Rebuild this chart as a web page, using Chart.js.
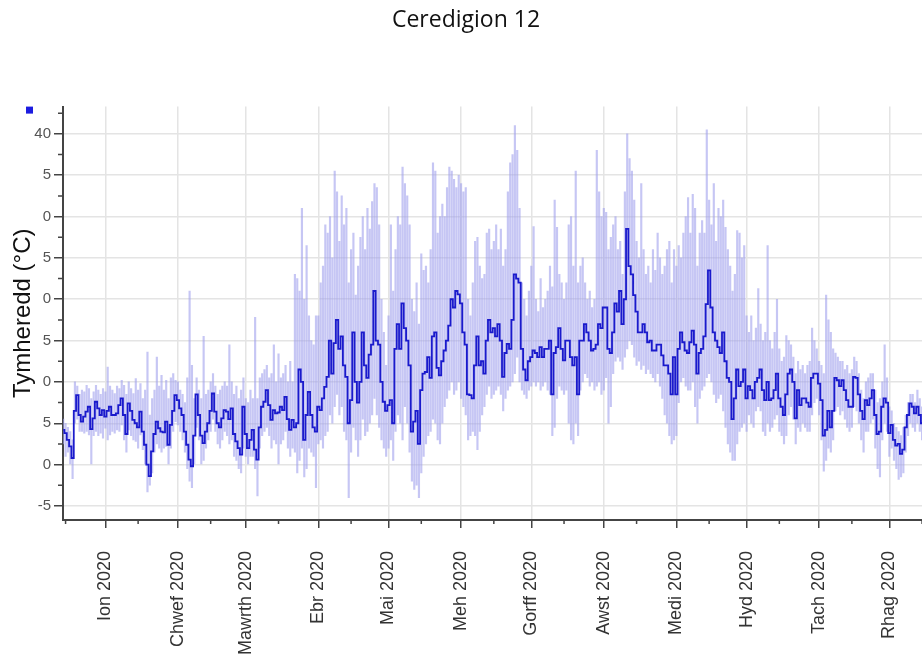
<!DOCTYPE html>
<html>
<head>
<meta charset="utf-8">
<script src="https://cdn.jsdelivr.net/npm/chart.js@4.4.1/dist/chart.umd.min.js"></script>
<style>
  html, body { margin: 0; padding: 0; background: #fff; overflow: hidden; }
</style>
</head>
<body>
<canvas id="tempChart" width="934" height="662"></canvas>
<script>
// day numbers count from 1 Jan 2020, the first reading is 14 Dec 2019
const firstDay = -18;

// daily mean (dark line)
const meanTemp = [
  4.2, 3.8, 3.0, 2.2, 0.8, 6.5, 8.4, 6.0, 5.2, 5.8,
  6.4, 7.0, 4.3, 5.6, 7.6, 6.8, 6.0, 6.6, 5.8, 6.5,
  7.0, 6.0, 6.0, 6.2, 7.2, 8.0, 6.0, 3.7, 7.4, 6.5,
  5.4, 5.0, 4.5, 6.4, 4.0, 2.4, 0.0, -1.4, 1.6, 3.7,
  5.2, 4.4, 4.0, 3.9, 5.2, 2.4, 4.8, 6.5, 8.4, 7.8,
  6.8, 6.0, 4.0, 2.4, 0.6, -0.2, 3.5, 8.5, 6.0, 3.5,
  2.6, 4.0, 5.0, 6.5, 8.6, 6.4, 5.0, 4.5, 5.6, 6.6,
  6.4, 5.5, 6.8, 3.7, 2.8, 2.0, 1.2, 7.0, 3.7, 2.0,
  3.0, 4.2, 1.8, 0.6, 4.5, 7.0, 7.6, 9.0, 7.2, 5.4,
  6.6, 6.2, 6.3, 7.0, 6.6, 8.2, 5.5, 4.2, 5.4, 4.5,
  5.0, 11.5, 10.0, 3.0, 6.0, 8.8, 6.0, 4.5, 4.0, 7.0,
  6.6, 8.0, 9.4, 10.6, 15.0, 11.0, 14.7, 17.5, 14.0, 15.5,
  12.0, 10.6, 5.0, 7.8, 16.0, 10.0, 7.5, 10.0, 16.0, 12.0,
  10.5, 13.3, 14.5, 21.0, 15.0, 14.5, 10.0, 7.6, 6.5, 7.2,
  7.8, 5.0, 14.0, 17.0, 14.0, 19.5, 16.5, 15.0, 12.0, 4.0,
  5.2, 6.5, 2.5, 9.0, 11.0, 11.2, 13.0, 10.5, 15.5, 16.0,
  11.7, 10.8, 12.5, 13.8, 15.0, 16.8, 20.0, 19.0, 21.0, 20.6,
  19.5, 16.0, 14.5, 8.5, 8.4, 8.0, 12.0, 15.5, 12.0, 12.5,
  11.0, 15.0, 17.5, 16.0, 16.5, 15.5, 17.0, 15.0, 10.6, 13.5,
  14.6, 14.0, 17.5, 23.0, 22.5, 22.0, 14.0, 11.5, 10.2, 12.5,
  13.0, 13.8, 13.5, 13.0, 14.2, 13.0, 14.0, 14.0, 15.0, 8.5,
  13.5, 14.2, 16.5, 14.0, 12.6, 15.0, 15.0, 13.0, 12.0, 13.0,
  8.5, 15.0, 15.0, 17.0, 16.0, 15.0, 13.8, 14.0, 14.5, 17.0,
  16.5, 19.0, 19.0, 14.0, 13.5, 16.0, 19.5, 18.5, 21.0, 17.0,
  20.0, 28.5, 24.0, 23.0, 20.5, 18.5, 16.0, 16.0, 17.0, 16.0,
  14.8, 15.0, 13.8, 13.8, 14.5, 14.5, 13.2, 12.0, 12.0, 11.0,
  8.5, 13.0, 8.5, 14.0, 16.0, 14.8, 13.8, 13.5, 14.8, 16.2,
  14.5, 11.0, 13.5, 14.0, 15.5, 19.4, 23.5, 19.0, 16.0, 15.0,
  14.2, 13.5, 16.0, 12.5, 10.5, 10.0, 5.5, 8.0, 11.5, 9.5,
  10.0, 11.5, 8.0, 9.5, 9.0, 8.0, 10.0, 10.5, 11.5, 9.0,
  7.8, 10.0, 7.8, 8.0, 9.0, 11.0, 8.0, 7.0, 6.0, 8.5,
  11.0, 11.5, 10.0, 5.6, 9.0, 7.2, 8.0, 8.0, 7.5, 7.0,
  10.5, 11.0, 11.0, 9.8, 7.8, 3.5, 4.2, 6.5, 4.5, 6.5,
  10.5, 10.2, 9.5, 10.2, 9.0, 7.8, 7.0, 7.0, 10.6, 10.5,
  8.5, 6.5, 5.5, 7.8, 7.2, 8.0, 9.0, 6.0, 3.7, 4.0,
  7.0, 8.0, 7.5, 3.8, 4.8, 3.0, 2.3, 2.5, 1.3, 1.8,
  4.5, 6.0, 7.4, 7.0, 6.2, 7.0, 6.0, 5.0, 5.5
];

// daily highest reading (top of the light bars)
const maxTemp = [
  5.5, 5.0, 4.5, 4.0, 3.0, 10.0, 9.5, 8.5, 9.0, 8.8,
  9.6, 9.2, 8.0, 8.8, 9.6, 9.0, 8.5, 9.2, 8.8, 11.8,
  9.5, 9.0, 8.6, 9.5, 9.2, 10.2, 9.6, 8.5, 10.0, 9.2,
  8.6, 10.4, 9.0, 9.8, 8.0, 9.0, 13.6, 6.0, 8.0, 9.0,
  13.0, 9.5, 10.8, 9.0, 10.2, 8.0, 10.5, 11.0, 10.2, 10.0,
  9.0, 8.5, 7.5, 10.5, 21.0, 12.0, 8.0, 10.5, 9.0, 8.0,
  15.5, 8.5, 9.0, 10.0, 11.0, 9.5, 8.5, 9.0, 9.5, 10.0,
  9.5, 14.5, 10.0, 8.5, 9.5, 8.0, 9.0, 10.5, 8.0, 7.5,
  9.0, 8.0, 17.8, 8.0, 10.5, 11.0, 11.5, 12.0, 10.5, 11.0,
  14.5, 10.0, 13.4, 10.5, 11.0, 12.0, 10.0, 12.5, 10.0, 23.0,
  22.5, 21.0, 31.0, 20.0, 26.5, 18.0, 15.0, 14.5, 18.0, 18.0,
  22.0, 24.0, 29.0, 28.0, 30.0, 25.0, 35.5, 33.0, 27.0, 32.5,
  29.0, 31.0, 22.0, 26.0, 28.0, 20.5, 24.0, 27.5, 30.0, 26.0,
  31.0, 28.5, 31.8, 34.0, 33.5, 29.0, 20.0, 16.0, 12.0, 18.0,
  29.0, 21.0, 26.0, 30.0, 29.0, 36.0, 34.0, 32.5, 29.0, 20.0,
  18.5, 22.0, 17.0, 25.5, 23.5, 24.0, 22.0, 26.0, 36.5, 35.5,
  28.0, 30.0, 31.5, 30.0, 33.5, 36.0, 35.5, 34.5, 33.5, 35.0,
  34.0, 33.0, 33.5, 20.0, 18.0, 22.0, 27.0, 27.5, 24.0, 22.5,
  23.0, 28.0, 28.5, 26.0, 27.0, 29.0, 26.0, 28.5, 24.0, 26.0,
  33.0, 36.5, 37.5, 41.0, 38.0, 31.0, 22.0, 20.0, 18.0, 21.0,
  24.0, 28.8, 20.0, 18.5, 22.5, 19.0, 20.0, 21.0, 24.0, 21.5,
  32.0, 28.7, 23.0, 22.0, 20.0, 22.0, 29.0, 30.0, 24.0, 35.5,
  22.0, 24.0, 25.0, 22.0, 20.0, 21.0, 19.0, 20.0, 38.0, 33.0,
  30.0, 31.0, 30.5, 26.0, 27.5, 29.0, 30.0, 26.0, 27.0, 23.0,
  33.0, 40.0, 37.0, 35.5, 32.0, 27.0, 25.0, 34.0, 26.0, 23.0,
  24.0, 22.0, 26.0, 23.5, 28.0, 25.0, 23.0, 24.0, 26.0, 27.0,
  22.0, 26.0, 24.0, 26.5, 25.0, 28.0, 30.0, 32.3, 28.0, 32.7,
  31.0, 24.0, 28.0, 29.5, 28.0, 40.5, 32.0, 29.0, 34.0, 27.0,
  31.0, 30.0, 32.0, 28.7, 26.0, 24.0, 21.0, 23.0, 28.3, 28.0,
  25.0, 26.5, 18.0, 16.0, 18.0, 15.0, 16.5, 21.3, 17.0, 15.0,
  16.0, 26.5, 15.0, 14.0, 16.0, 20.0, 14.0, 12.5, 13.0, 15.6,
  15.0, 14.5, 13.0, 11.0, 12.5, 11.5, 12.0, 11.0, 12.0, 12.5,
  16.5, 15.0, 14.0, 12.5, 12.0, 11.0, 20.5, 17.5, 16.0, 14.0,
  13.5, 13.0, 12.5, 12.5, 11.5, 12.0, 11.0, 11.5, 13.0, 12.5,
  11.0, 9.0, 8.0, 10.0, 10.5, 11.0, 11.0, 9.0, 7.5, 8.0,
  10.0, 14.5, 10.5, 7.0, 6.5, 5.0, 4.5, 4.0, 3.5, 4.5,
  6.0, 7.5, 8.5, 8.5, 7.5, 9.0, 8.0, 7.0, 7.0
];

// daily lowest reading (bottom of the light bars)
const minTemp = [
  2.5, 1.0, 1.5, 0.0, -1.7, 5.0, 5.5, 4.0, 4.0, 3.8,
  4.0, 3.6, 0.0, 3.5, 4.0, 3.5, 3.8, 3.2, 4.4, 3.0,
  3.6, 4.0, 3.8, 4.2, 4.0, 4.8, 3.0, 1.5, 4.2, 3.5,
  3.0, 2.8, 2.0, 3.6, 1.8, 0.0, -3.3, -2.5, -1.0, 1.5,
  2.5, 2.0, 1.5, 2.0, 2.2, 0.0, 2.0, 4.0, 5.2, 4.8,
  4.0, 3.0, 1.5, -0.5, -2.0, -2.8, 0.0, 4.5, 3.0, 0.0,
  0.5, 2.0, 3.0, 4.0, 5.5, 4.0, 2.5, 2.0, 3.0, 4.0,
  3.5, 2.5, 3.0, 1.0, 0.5, -0.5, -1.0, 2.0, 1.0, 0.0,
  1.0, 1.0, -0.5, -3.8, 2.0, 3.5, 4.0, 4.5, 3.5, 2.0,
  3.0, 2.5, 0.0, 2.5, 3.0, 4.0, 2.0, 1.0, 2.0, 1.5,
  -1.0, 0.5, 2.0, -1.5, -0.5, 2.0, 1.5, 1.0, -2.8, 2.5,
  3.0, 2.0, 3.5, 4.0, 6.0, 5.0, 7.0, 8.5, 6.0, 7.0,
  4.0, 3.0, -4.0, 1.5, 4.5, 3.0, 1.0, 3.0, 5.5, 3.5,
  4.0, 5.0, 6.0, 8.0, 6.0, 4.5, 3.0, 2.0, 1.0, 2.0,
  3.0, 0.5, 4.0, 6.0, 5.0, 3.0, 7.0, 5.0, 1.5, -2.0,
  -3.0, -2.5, -4.0, -1.0, 1.0, 2.5, 3.5, 4.0, 5.5, 5.0,
  3.0, 2.5, 5.0, 7.0, 8.0, 9.0, 10.0, 8.5, 9.0, 10.0,
  8.0, 7.0, 6.0, 3.0, 3.5, 4.0, 3.5, 1.8, 4.0, 6.0,
  7.0, 8.5, 9.5, 8.0, 8.5, 9.0, 9.5, 8.5, 6.5, 8.0,
  9.0, 9.5, 10.0, 11.0, 13.0, 10.0, 9.0, 8.5, 8.0, 9.0,
  9.5, 10.0, 9.5, 10.0, 9.0, 9.5, 10.0, 9.0, 8.5, 3.5,
  4.5, 8.0, 9.5, 9.0, 8.5, 9.0, 5.0, 3.0, 2.5, 5.0,
  3.5, 9.0, 10.0, 11.0, 10.5, 9.5, 10.0, 9.0, 9.5, 10.0,
  8.5, 9.0, 10.5, 5.0, 7.0, 11.0, 12.5, 13.0, 12.5, 11.5,
  13.0, 14.0, 15.0, 14.5, 13.0, 12.0, 12.5, 11.5, 12.0, 11.0,
  11.5, 11.0, 10.5, 10.0, 11.0, 9.5, 8.0, 6.0, 5.0, 3.5,
  2.5, 3.0, 3.5, 7.5, 10.0, 10.5, 9.5, 9.0, 9.0, 10.0,
  7.0, 5.0, 8.0, 9.0, 9.5, 10.5, 11.0, 10.0, 8.5, 7.5,
  8.0, 8.5, 6.5, 4.5, 2.5, 1.5, 0.5, 0.5, 2.5, 4.0,
  4.5, 5.0, 4.0, 6.0, 5.0, 4.5, 6.5, 7.0, 6.5, 4.0,
  3.5, 5.0, 4.0, 4.5, 5.5, 6.0, 4.0, 3.5, 2.5, 3.5,
  6.0, 7.0, 5.5, 2.5, 4.5, 4.0, 5.0, 4.5, 4.0, 4.0,
  6.0, 7.5, 8.0, 6.0, 3.0, -0.8, 0.5, 2.0, 1.5, 3.0,
  6.5, 7.0, 6.0, 6.5, 5.5, 4.5, 4.0, 4.5, 7.0, 6.5,
  5.0, 3.0, 1.5, 4.0, 4.0, 5.0, 5.5, 2.0, -0.5, -1.5,
  3.0, 5.0, 4.0, 1.0, 2.0, 0.5, -0.5, -1.8, -1.5, -1.0,
  1.5, 3.5, 5.0, 4.5, 4.0, 5.0, 4.0, 3.0, 3.5
];

const monthTicks = [0, 31, 60, 91, 121, 152, 182, 213, 244, 274, 305, 335];
const monthLabels = ['Ion 2020', 'Chwef 2020', 'Mawrth 2020', 'Ebr 2020', 'Mai 2020', 'Meh 2020',
  'Gorff 2020', 'Awst 2020', 'Medi 2020', 'Hyd 2020', 'Tach 2020', 'Rhag 2020'];
const midMonthTicks = [-17, 14, 45, 74, 105, 135, 166, 196, 227, 258, 288, 319, 349];
const tempTicks = [-5, 0, 5, 10, 15, 20, 25, 30, 35, 40];
const tempLabels = ['-5', '0', '5', '0', '5', '0', '5', '0', '5', '40'];
const minorTempTicks = [-2.5, 2.5, 7.5, 12.5, 17.5, 22.5, 27.5, 32.5, 37.5, 42.5];

const days = meanTemp.map((t, i) => firstDay + i);

Chart.defaults.font.family = '"Liberation Sans", Arial, sans-serif';

// short ticks between the labelled ones, plus the little legend square
const extras = {
    id: 'extras',
    afterDraw(chart) {
        const { ctx, chartArea, scales } = chart;
        ctx.save();
        ctx.strokeStyle = '#444';
        ctx.lineWidth = 1.5;
        ctx.beginPath();
        midMonthTicks.forEach(v => {
            const px = scales.x.getPixelForValue(v);
            ctx.moveTo(px, chartArea.bottom);
            ctx.lineTo(px, chartArea.bottom + 4);
        });
        minorTempTicks.forEach(v => {
            const py = scales.y.getPixelForValue(v);
            ctx.moveTo(chartArea.left - 5, py);
            ctx.lineTo(chartArea.left, py);
        });
        ctx.stroke();
        ctx.fillStyle = '#1c1ce0';
        ctx.fillRect(chartArea.left - 37, chartArea.top, 7, 7);
        ctx.restore();
    }
};

const ctx = document.getElementById('tempChart').getContext('2d');

const tempChart = new Chart(ctx, {
    type: 'bar',
    data: {
        datasets: [{
            type: 'line',
            label: 'Cymedr',
            data: days.map((d, i) => ({ x: d, y: meanTemp[i] })),
            borderColor: '#1a1acc',
            borderWidth: 1.8,
            pointRadius: 0,
            stepped: 'middle',
            fill: false
        }, {
            type: 'bar',
            label: 'Amrediad',
            data: days.map((d, i) => ({ x: d, y: [minTemp[i], maxTemp[i]] })),
            backgroundColor: 'rgba(160, 160, 236, 0.6)',
            borderWidth: 0,
            barThickness: 1.5
        }]
    },
    options: {
        responsive: false,
        animation: false,
        layout: { padding: { left: 0, right: 2, top: 0, bottom: 0 } },
        plugins: {
            legend: { display: false },
            tooltip: { enabled: false },
            title: {
                display: true,
                text: 'Ceredigion 12',
                color: '#111',
                font: { family: '"Open Sans", sans-serif', size: 23, weight: 'normal' },
                padding: { top: 7, bottom: 72 }
            }
        },
        scales: {
            x: {
                type: 'linear',
                offset: false,
                min: -18.1,
                max: 349.0,
                afterBuildTicks: s => { s.ticks = monthTicks.map(v => ({ value: v })); },
                afterFit: s => { s.height = 142; },
                ticks: {
                    autoSkip: false,
                    minRotation: 90,
                    maxRotation: 90,
                    padding: 23,
                    color: '#333',
                    font: { size: 18 },
                    callback: (v, i) => monthLabels[i]
                },
                grid: { offset: false, color: '#e4e4e4', lineWidth: 1.5, tickColor: '#444', tickLength: 8 },
                border: { color: '#444', width: 2 }
            },
            y: {
                min: -6.7,
                max: 43.3,
                afterBuildTicks: s => { s.ticks = tempTicks.map(v => ({ value: v })); },
                afterFit: s => { s.width = 63; },
                ticks: {
                    color: '#555',
                    font: { size: 15 },
                    padding: 3,
                    callback: (v, i) => tempLabels[i]
                },
                grid: { color: '#e4e4e4', lineWidth: 1.5, tickColor: '#444', tickLength: 9 },
                border: { color: '#444', width: 2 },
                title: {
                    display: true,
                    text: 'Tymheredd (°C)',
                    color: '#111',
                    font: { size: 24 },
                    padding: { top: 9, bottom: 0 }
                }
            }
        }
    },
    plugins: [extras]
});
</script>
</body>
</html>
